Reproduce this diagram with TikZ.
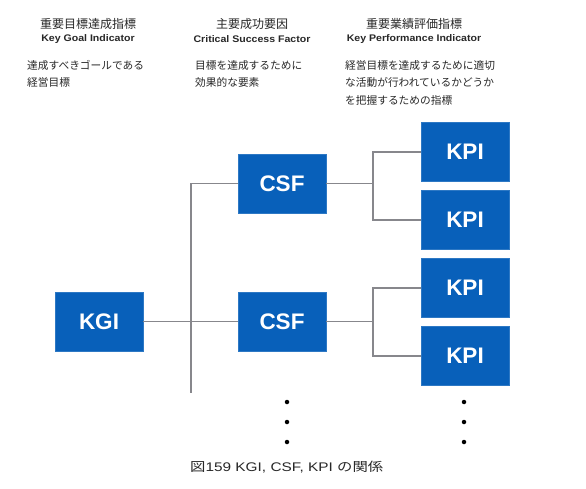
\documentclass[tikz,border=0pt]{standalone}
\usepackage{fontspec}
\setmainfont{Liberation Sans}
\newfontfamily\jp{Noto Sans CJK JP}
\definecolor{boxblue}{RGB}{8,96,186}
\definecolor{linegray}{RGB}{135,135,140}
\definecolor{txt}{RGB}{40,40,40}
\newcommand{\wide}[2]{\scalebox{#1}[1]{#2}}
\begin{document}
\begin{tikzpicture}[x=1pt,y=-1pt,
  bluebox/.style={fill=boxblue,draw=boxblue!85!white,line width=0.6pt,minimum width=88pt,minimum height=59pt,inner sep=0pt,text=white,font=\fontsize{22.5}{22.5}\selectfont\bfseries},
  conn/.style={draw=linegray,line width=1.6pt},
  jhead/.style={font=\jp\fontsize{12}{14}\selectfont,text=txt,inner sep=0pt},
  ehead/.style={font=\fontsize{9.6}{12}\selectfont\bfseries,text=txt,inner sep=0pt},
  desc/.style={font=\jp\fontsize{10.7}{17.4}\selectfont,text=txt,inner sep=0pt,align=left,anchor=north west},
  dot/.style={circle,fill=black,inner sep=0pt,minimum size=4.5pt}]
\useasboundingbox (0,0) rectangle (586,489);
\fill[white] (0,0) rectangle (586,489);
% headings
\node[jhead] (h1) at (88,24) {重要目標達成指標};
\node[ehead] (e1) at (88,39) {\wide{1.1}{Key Goal Indicator}};
\node[jhead] (h2) at (252,24) {主要成功要因};
\node[ehead] (e2) at (252,39) {\wide{1.1}{Critical Success Factor}};
\node[jhead] (h3) at (414,24) {重要業績評価指標};
\node[ehead] (e3) at (414,39) {\wide{1.1}{Key Performance Indicator}};
% descriptions
\node[desc] (d1t) at (27,60) {達成すべきゴールである\\経営目標};
\node[desc] (d2t) at (195,60) {目標を達成するために\\効果的な要素};
\node[desc] (d3t) at (345,60) {経営目標を達成するために適切\\な活動が行われているかどうか\\を把握するための指標};
% boxes
\node[bluebox] (kgi) at (99,321.5) {KGI};
\node[bluebox] (csf1) at (282,183.5) {CSF};
\node[bluebox] (csf2) at (282,321.5) {CSF};
\node[bluebox] (kpi1) at (465,152) {KPI};
\node[bluebox] (kpi2) at (465,220) {KPI};
\node[bluebox] (kpi3) at (465,288) {KPI};
\node[bluebox] (kpi4) at (465,356) {KPI};
% connectors
\coordinate (tb) at (191,393);
\coordinate (j1) at (373,183.5);
\coordinate (j2) at (373,321.5);
\draw[conn] (kgi.east) -- (csf2.west);
\draw[conn] (csf1.west) -| (tb);
\draw[conn] (csf1.east) -- (j1);
\draw[conn] (kpi1.west) -| (j1) |- (kpi2.west);
\draw[conn] (csf2.east) -- (j2);
\draw[conn] (kpi3.west) -| (j2) |- (kpi4.west);
% dots
\node[dot] (p1) at (287,402) {};
\node[dot] (p2) at (287,422) {};
\node[dot] (p3) at (287,442) {};
\node[dot] (q1) at (464,402) {};
\node[dot] (q2) at (464,422) {};
\node[dot] (q3) at (464,442) {};
% caption
\node[font=\fontsize{12.5}{14}\selectfont,text=txt,inner sep=0pt,anchor=west] (cap) at (190,467) {\wide{1.23}{{\jp 図}159 KGI, CSF, KPI {\jp の関係}}};
\end{tikzpicture}
\end{document}
